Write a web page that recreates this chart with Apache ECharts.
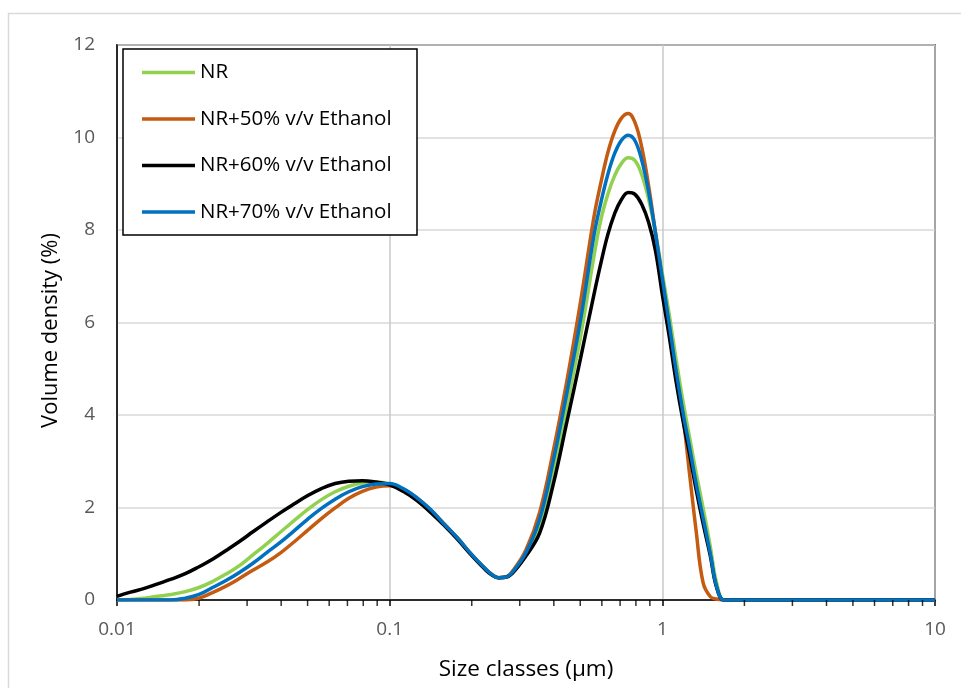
<!DOCTYPE html>
<html>
<head>
<meta charset="utf-8">
<script src="https://cdn.jsdelivr.net/npm/echarts@6/dist/echarts.min.js"></script>
<style>html,body{margin:0;padding:0;background:#fff}#c{width:961px;height:688px}</style>
</head>
<body>
<div id="c"></div>
<script>
const sizes = [0.01,0.0112,0.0126,0.0141,0.0158,0.0178,0.02,0.0224,0.0251,0.0282,0.0316,0.0355,0.0398,0.0447,0.0501,0.0562,0.0631,0.0708,0.0794,0.0891,0.1,0.112,0.126,0.141,0.158,0.178,0.2,0.224,
  0.237,0.251,0.266,0.282,0.316,0.355,0.398,0.447,0.501,0.562,
  0.596,0.631,0.668,0.708,0.75,0.794,0.841,0.891,0.944,1,1.06,1.12,1.19,1.26,1.33,1.41,1.5,1.58,1.68,1.78,
  2.51,3.98,6.31,10];
const nr    = [0,0.01,0.04,0.08,0.12,0.18,0.27,0.40,0.56,0.75,0.98,1.22,1.47,1.72,1.96,2.17,2.34,2.46,2.53,2.55,2.51,2.40,2.20,1.95,1.65,1.33,0.98,0.68,
  0.55,0.48,0.49,0.59,0.98,1.65,2.77,4.21,5.69,7.45,
  8.24,8.77,9.17,9.44,9.56,9.50,9.19,8.66,7.95,7.06,6.17,5.25,4.30,3.50,2.75,2.00,1.15,0.38,0,0,
  0,0,0,0];
const eth50 = [0,0,0,0,0,0,0.04,0.16,0.30,0.47,0.65,0.82,1.02,1.26,1.51,1.76,1.99,2.20,2.35,2.44,2.47,2.40,2.20,1.95,1.65,1.33,0.98,0.68,
  0.55,0.48,0.49,0.62,1.08,1.90,3.22,4.75,6.44,8.30,
  9.04,9.67,10.13,10.42,10.52,10.32,9.78,8.95,7.93,6.91,5.90,4.93,3.98,2.70,1.50,0.38,0.07,0.02,0,0,
  0,0,0,0];
const eth60 = [0.08,0.17,0.25,0.35,0.45,0.57,0.72,0.88,1.07,1.27,1.48,1.69,1.89,2.08,2.26,2.41,2.52,2.57,2.58,2.55,2.49,2.35,2.15,1.90,1.62,1.30,0.96,0.66,
  0.54,0.48,0.49,0.58,0.95,1.45,2.50,3.86,5.22,6.62,
  7.30,7.90,8.35,8.66,8.81,8.77,8.55,8.16,7.55,6.60,5.70,4.77,3.88,3.14,2.39,1.66,0.95,0.28,0,0,
  0,0,0,0];
const eth70 = [0,0,0,0,0,0.04,0.12,0.27,0.42,0.60,0.80,1.03,1.25,1.50,1.75,1.98,2.18,2.34,2.45,2.51,2.52,2.41,2.21,1.96,1.65,1.33,0.98,0.68,
  0.55,0.48,0.49,0.60,1.02,1.75,3.00,4.49,6.05,7.90,
  8.61,9.20,9.65,9.94,10.05,9.93,9.50,8.82,7.93,6.95,5.97,5.01,4.06,3.29,2.52,1.78,1.00,0.30,0,0,
  0,0,0,0];
const seriesNames = ['NR','NR+50% v/v Ethanol','NR+60% v/v Ethanol','NR+70% v/v Ethanol'];
const seriesColors = ['#92D050','#C55A11','#000000','#0070C0'];
const minorTicks = [0.02,0.03,0.04,0.05,0.06,0.07,0.08,0.09,0.2,0.3,0.4,0.5,0.6,0.7,0.8,0.9,2,3,4,5,6,7,8,9];
const xTitle = 'Size classes (µm)';
const yTitle = 'Volume density (%)';

const FONT = 'Open Sans';
const chart = echarts.init(document.getElementById('c'), null, {renderer:'canvas'});
const values = [nr, eth50, eth60, eth70];
const lineSeries = values.map((arr, k) => ({
  name: seriesNames[k],
  type: 'line',
  data: sizes.map((x, i) => [x, arr[i]]),
  showSymbol: false,
  symbol: 'none',
  smooth: 0.4,
  lineStyle: {width: 3.5, color: seriesColors[k]},
  itemStyle: {color: seriesColors[k]},
  z: 3 + k
}));
lineSeries.push({
  type: 'scatter',
  data: minorTicks.map(v => [v, 0]),
  symbol: 'rect',
  symbolSize: [1.5, 6],
  symbolOffset: [0, 3],
  itemStyle: {color: '#000'},
  silent: true,
  clip: false,
  z: 10
});

chart.setOption({
  animation: false,
  backgroundColor: '#fff',
  graphic: [
    {type: 'rect', shape: {x: 8.5, y: 13.5, width: 1000, height: 1000}, style: {fill: 'none', stroke: '#d9d9d9', lineWidth: 1.5}, z: -10},
    {type: 'rect', shape: {x: 123, y: 49, width: 294, height: 186}, style: {fill: '#fff', stroke: '#000', lineWidth: 1.5}, z: 50}
  ],
  grid: {left: 117, right: 26, top: 45, bottom: 88, show: true, borderColor: '#000', borderWidth: 1.5, backgroundColor: 'transparent'},
  legend: {
    data: seriesNames,
    orient: 'vertical',
    left: 123, top: 49,
    padding: [11.5, 20, 10, 19],
    icon: 'rect',
    itemWidth: 53, itemHeight: 3.5, itemGap: 22.5,
    textStyle: {fontFamily: FONT, fontSize: 20.5, color: '#000', lineHeight: 24},
    z: 60
  },
  xAxis: {
    type: 'log', logBase: 10, min: 0.01, max: 10,
    name: xTitle, nameLocation: 'middle', nameGap: 58,
    nameTextStyle: {fontFamily: FONT, fontSize: 22.5, color: '#000'},
    axisLine: {show: true, lineStyle: {color: '#000', width: 1.5}},
    axisTick: {show: true, length: 6, lineStyle: {color: '#000', width: 1.5}},
    axisLabel: {fontFamily: FONT, fontSize: 19, color: '#595959', margin: 20,
      formatter: v => String(+(+v).toPrecision(3))},
    splitLine: {show: true, lineStyle: {color: '#c8c8c8', width: 1.5}},
    minorTick: {show: false}
  },
  yAxis: {
    type: 'value', min: 0, max: 12, interval: 2,
    name: yTitle, nameLocation: 'middle', nameGap: 55,
    nameTextStyle: {fontFamily: FONT, fontSize: 22, color: '#000', padding: [0, 16, 0, 0]},
    axisLine: {show: true, lineStyle: {color: '#000', width: 1.5}},
    axisTick: {show: false},
    axisLabel: {fontFamily: FONT, fontSize: 19, color: '#595959', margin: 22},
    splitLine: {show: true, lineStyle: {color: '#d9d9d9', width: 1.5}}
  },
  series: lineSeries
});
</script>
</body>
</html>
